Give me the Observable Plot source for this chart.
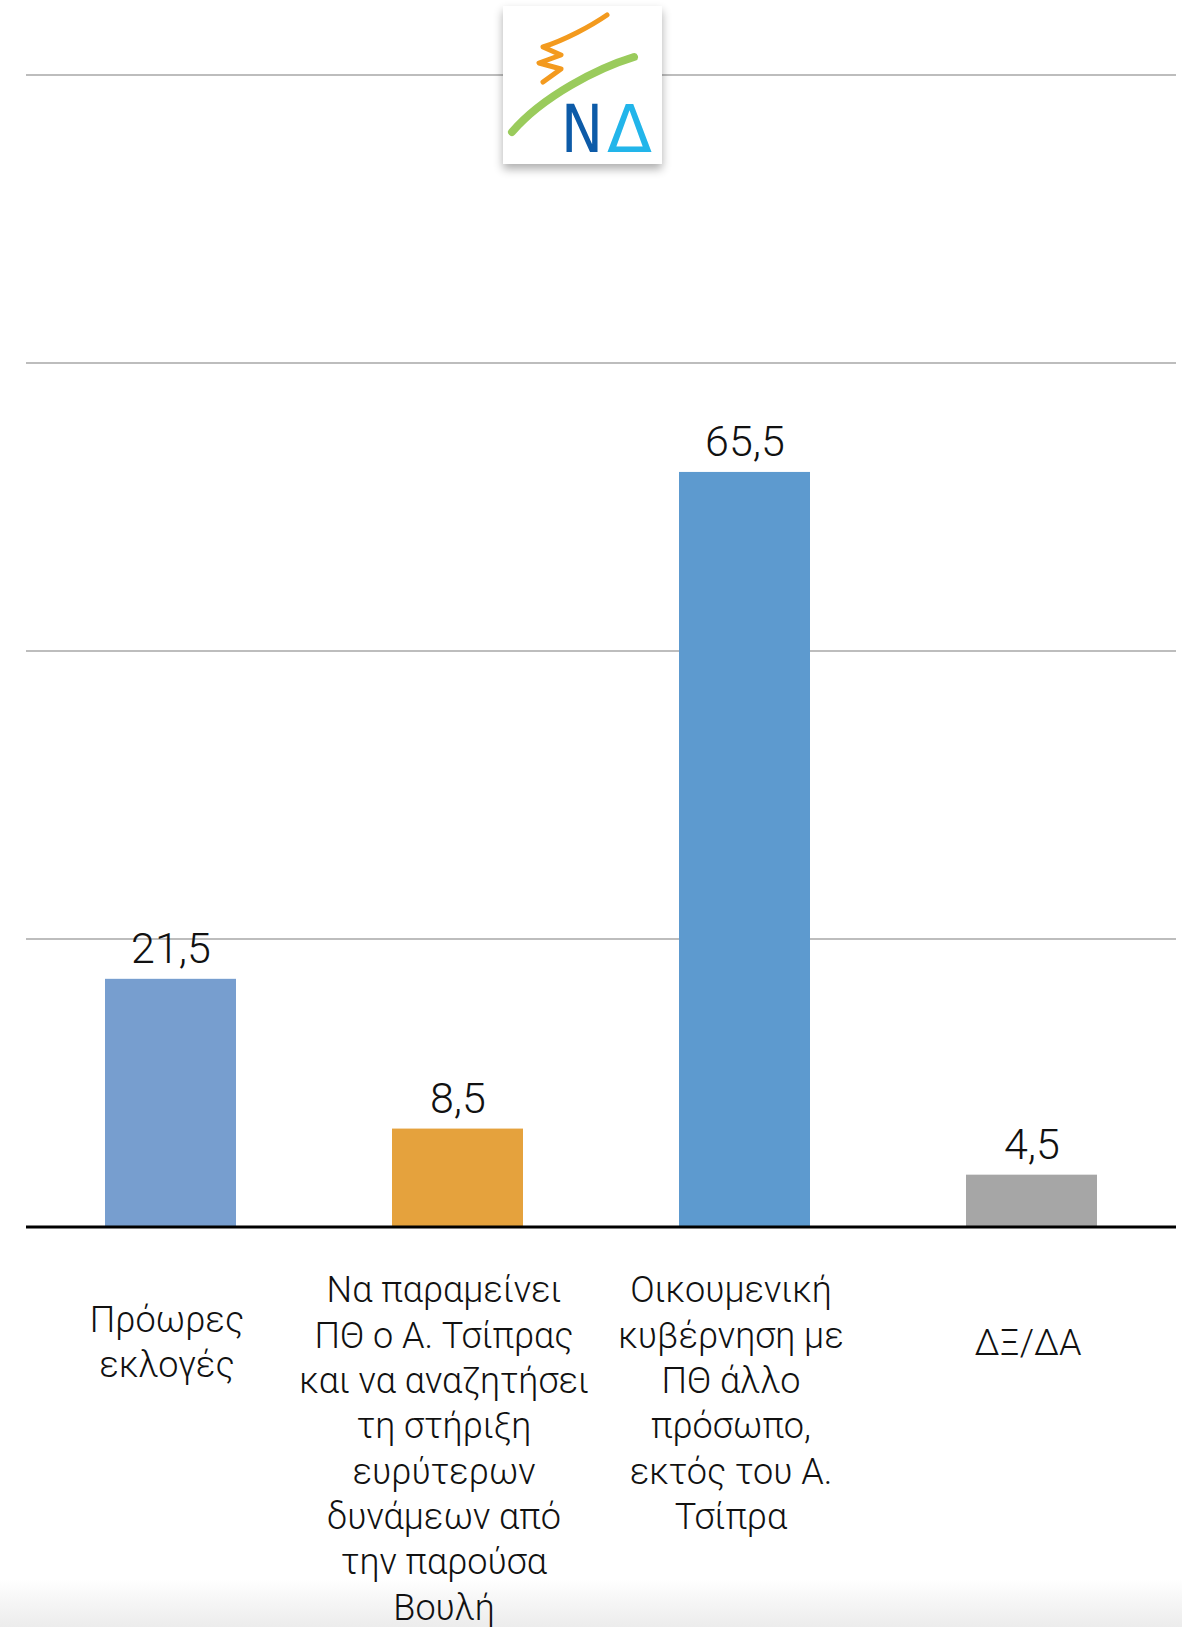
<!DOCTYPE html>
<html>
<head>
<meta charset="utf-8">
<script src="https://cdn.jsdelivr.net/npm/d3@7"></script>
<script src="https://cdn.jsdelivr.net/npm/@observablehq/plot@0.6"></script>
<style>
  body { margin: 0; background: #fff; }
  #wrap { position: relative; width: 1182px; height: 1627px; overflow: hidden; background: #fff; }
  #fade { position: absolute; left: 0; right: 0; bottom: 0; height: 48px;
          background: linear-gradient(to bottom, rgba(244,244,244,0), rgba(236,236,236,1)); }
  #chart { position: absolute; left: 0; top: 0; }
  #logo { position: absolute; left: 503px; top: 6px; width: 159px; height: 158px; background: #fff;
          box-shadow: 0 5px 9px rgba(0,0,0,0.32); }
</style>
</head>
<body>
<div id="wrap">
  <div id="fade"></div>
  <div id="chart"></div>
  <div id="logo">
    <svg width="159" height="158" viewBox="0 0 159 158">
      <path d="M104,9 C88,20 62,34 40,41 L58,49 L36,57 L58,63 L40,76" fill="none" stroke="#F39A1E" stroke-width="5" stroke-linecap="round" stroke-linejoin="round"/>
      <path d="M131,51 C95,62 40,90 9,126" fill="none" stroke="#9ACB5C" stroke-width="8" stroke-linecap="round"/>
      <text x="58" y="146" font-family="DejaVu Sans Condensed, DejaVu Sans, sans-serif" font-size="66" fill="#0D5BA8" textLength="42" lengthAdjust="spacingAndGlyphs">Ν</text>
      <text x="104" y="146" font-family="DejaVu Sans Condensed, DejaVu Sans, sans-serif" font-size="66" fill="#22B5EA" textLength="45" lengthAdjust="spacingAndGlyphs">Δ</text>
    </svg>
  </div>
</div>
<script>
const categories = [
  "Πρόωρες\nεκλογές",
  "Να παραμείνει\nΠΘ ο Α. Τσίπρας\nκαι να αναζητήσει\nτη στήριξη\nευρύτερων\nδυνάμεων από\nτην παρούσα\nΒουλή",
  "Οικουμενική\nκυβέρνηση με\nΠΘ άλλο\nπρόσωπο,\nεκτός του Α.\nΤσίπρα",
  "ΔΞ/ΔΑ"
];
const values = [21.5, 8.5, 65.5, 4.5];
const barColors = ["#779ECF", "#E5A23D", "#5D9ACF", "#A6A6A6"];
const gridTicks = [25, 50, 75, 100];

const data = categories.map((c, i) => ({
  category: c, value: values[i], color: barColors[i], lines: c.split("\n").length
}));
const fmt = v => v.toFixed(1).replace(".", ",");

const chart = Plot.plot({
  width: 1182,
  height: 1627,
  marginTop: 74.5,
  marginBottom: 400.5,
  marginLeft: 26,
  marginRight: 6,
  style: { background: "transparent", fontFamily: "Roboto, 'Noto Sans', sans-serif" },
  x: { domain: categories, paddingInner: 0.544, paddingOuter: 0.272, axis: null },
  y: { domain: [0, 100], axis: null },
  color: { type: "identity" },
  marks: [
    Plot.ruleY(gridTicks, { stroke: "#BDBDBD", strokeWidth: 2 }),
    Plot.barY(data, { x: "category", y: "value", fill: "color" }),
    Plot.ruleY([0], { stroke: "#000", strokeWidth: 3 }),
    Plot.text(data, {
      x: "category", y: "value", text: d => fmt(d.value),
      lineAnchor: "bottom", dy: -16, fontSize: 43, fontWeight: 300, fill: "#111"
    }),
    Plot.text(data.filter(d => d.lines <= 2), {
      x: "category", frameAnchor: "bottom", text: "category", dx: -4,
      lineAnchor: "middle", dy: 113, fontSize: 36, lineHeight: 1.26, fontWeight: 300, fill: "#111"
    }),
    Plot.text(data.filter(d => d.lines > 2), {
      x: "category", frameAnchor: "bottom", text: "category", dx: -14,
      lineAnchor: "top", dy: 43, fontSize: 36, lineHeight: 1.26, fontWeight: 300, fill: "#111"
    })
  ]
});
document.getElementById("chart").appendChild(chart);
</script>
</body>
</html>
